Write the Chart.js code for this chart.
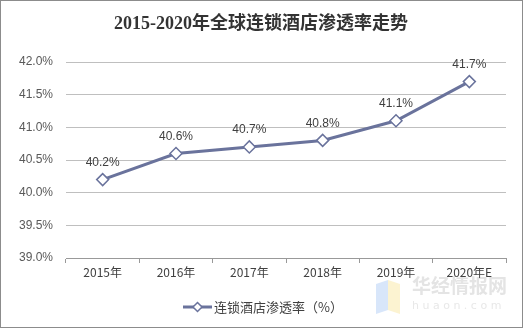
<!DOCTYPE html>
<html>
<head>
<meta charset="utf-8">
<script src="https://cdn.jsdelivr.net/npm/chart.js@4/dist/chart.umd.min.js"></script>
<style>
  html, body { margin: 0; padding: 0; background: #fff; }
  #wrap { width: 523px; height: 328px; }
</style>
</head>
<body>
<div id="wrap"><canvas id="chart" width="523" height="328"></canvas></div>
<script>
// data
const years = ['2015年', '2016年', '2017年', '2018年', '2019年', '2020年E'];
const rates = [40.2, 40.6, 40.7, 40.8, 41.1, 41.7];
const seriesName = '连锁酒店渗透率（%）';
const chartTitle = '2015-2020年全球连锁酒店渗透率走势';

const lineColor = 'rgb(106,115,156)';

// title, legend, border, watermark
const decorPlugin = {
    id: 'decor',
    beforeDraw(chart) {
        const ctx = chart.ctx;
        ctx.save();
        ctx.fillStyle = '#fff';
        ctx.fillRect(0, 0, chart.width, chart.height);
        // watermark
        ctx.globalAlpha = 0.35;
        ctx.fillStyle = '#8fb6f0';
        ctx.beginPath();
        ctx.moveTo(376, 284); ctx.lineTo(388, 280); ctx.lineTo(388, 310); ctx.lineTo(376, 314);
        ctx.fill();
        ctx.fillStyle = '#f6dc7a';
        ctx.beginPath();
        ctx.moveTo(388, 280); ctx.lineTo(400, 284); ctx.lineTo(400, 314); ctx.lineTo(388, 310);
        ctx.fill();
        ctx.globalAlpha = 1;
        ctx.fillStyle = '#e4e4e4';
        ctx.font = 'bold 19px "Noto Sans CJK SC"';
        ctx.textAlign = 'left';
        ctx.textBaseline = 'middle';
        ctx.fillText('华经情报网', 412, 286);
        ctx.font = '11px "DejaVu Sans"';
        ctx.fillStyle = '#e8e8e8';
        ctx.fillText('h u a o n . c o m', 412, 306);
        ctx.restore();
    },
    afterDraw(chart) {
        const ctx = chart.ctx;
        ctx.save();
        // title
        ctx.fillStyle = '#333';
        ctx.font = 'bold 18px "Liberation Serif", "Noto Sans CJK SC"';
        ctx.textAlign = 'center';
        ctx.textBaseline = 'middle';
        ctx.fillText(chartTitle, 261, 24);
        // legend
        ctx.strokeStyle = lineColor;
        ctx.lineWidth = 3;
        ctx.beginPath();
        ctx.moveTo(183, 307); ctx.lineTo(212, 307);
        ctx.stroke();
        ctx.fillStyle = '#fff';
        ctx.lineWidth = 1.5;
        ctx.beginPath();
        ctx.moveTo(197.5, 302.5); ctx.lineTo(202, 307); ctx.lineTo(197.5, 311.5); ctx.lineTo(193, 307);
        ctx.closePath();
        ctx.fill(); ctx.stroke();
        ctx.fillStyle = '#404040';
        ctx.font = '13px "Noto Sans CJK SC"';
        ctx.textAlign = 'left';
        ctx.fillText(seriesName, 214, 307);
        // data labels
        const meta = chart.getDatasetMeta(0);
        ctx.font = '12px "Liberation Sans"';
        ctx.textAlign = 'center';
        meta.data.forEach((pt, i) => {
            ctx.fillText(rates[i].toFixed(1) + '%', pt.x, pt.y - 17);
        });
        // border
        ctx.strokeStyle = '#8c8c8c';
        ctx.lineWidth = 1;
        ctx.strokeRect(0.5, 0.5, chart.width - 1, chart.height - 1);
        ctx.restore();
    }
};

new Chart(document.getElementById('chart'), {
    type: 'line',
    data: {
        labels: years,
        datasets: [{
            label: seriesName,
            data: rates,
            borderColor: lineColor,
            borderWidth: 3,
            backgroundColor: '#fff',
            pointStyle: 'rectRot',
            pointRadius: 6,
            pointBorderWidth: 1.5,
            pointBackgroundColor: '#fff',
            pointBorderColor: lineColor,
            tension: 0
        }]
    },
    options: {
        responsive: false,
        animation: false,
        layout: { padding: { top: 62, right: 17, bottom: 0, left: 0 } },
        plugins: {
            legend: { display: false },
            title: { display: false },
            tooltip: { enabled: false }
        },
        scales: {
            x: {
                offset: true,
                grid: {
                    offset: true,
                    drawOnChartArea: false,
                    drawTicks: true,
                    tickLength: 5,
                    color: '#999'
                },
                border: { color: '#999', width: 1 },
                ticks: {
                    color: '#404040',
                    font: { family: '"Noto Sans CJK SC"', size: 12 },
                    padding: 2,
                    maxRotation: 0
                },
                afterFit(scale) { scale.height = 70; }
            },
            y: {
                min: 39,
                max: 42,
                ticks: {
                    stepSize: 0.5,
                    color: '#595959',
                    font: { family: '"Liberation Sans"', size: 12 },
                    padding: 13,
                    callback: v => v.toFixed(1) + '%'
                },
                grid: { color: '#bfbfbf', drawTicks: false },
                border: { display: false },
                afterFit(scale) { scale.width = 66; }
            }
        }
    },
    plugins: [decorPlugin]
});
</script>
</body>
</html>
